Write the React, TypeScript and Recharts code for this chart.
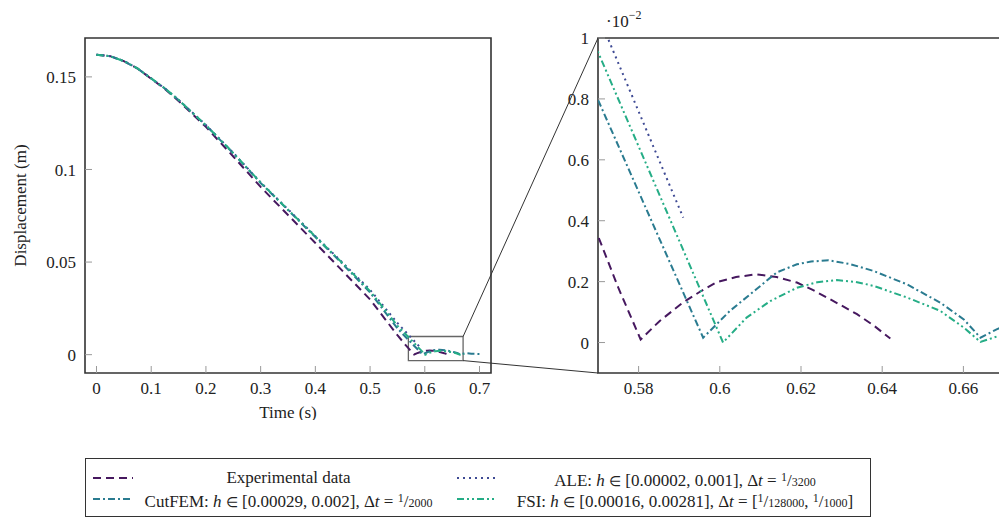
import React from "react";
import { LineChart, Line, XAxis, YAxis, ReferenceArea } from "recharts";

const FONT = '"Liberation Serif", "Times New Roman", serif';

// time (s) / displacement (m)
const expT = [0, 0.025, 0.05, 0.075, 0.1, 0.125, 0.15, 0.2, 0.25, 0.3, 0.35, 0.4, 0.45, 0.5, 0.55, 0.565, 0.57, 0.575, 0.5805, 0.5852, 0.591, 0.5955, 0.5992, 0.604, 0.609, 0.614, 0.619, 0.623, 0.6272, 0.6338, 0.638, 0.642];
const expY = [0.162, 0.1612, 0.1585, 0.1545, 0.149, 0.1435, 0.137, 0.123, 0.107, 0.0906, 0.0754, 0.0603, 0.0451, 0.0298, 0.0105, 0.0052, 0.0035, 0.0018, 0.0001, 0.00071, 0.00132, 0.0017, 0.00198, 0.00215, 0.00224, 0.00215, 0.00197, 0.00172, 0.00142, 0.00093, 0.00055, 0.00013];

const aleT = [0, 0.025, 0.05, 0.075, 0.1, 0.125, 0.15, 0.2, 0.25, 0.3, 0.35, 0.4, 0.45, 0.5, 0.55, 0.5724, 0.591];
const aleY = [0.162, 0.1612, 0.1586, 0.1546, 0.1492, 0.1438, 0.1376, 0.124, 0.109, 0.093, 0.0785, 0.064, 0.0496, 0.035, 0.0171, 0.01, 0.0041];

const cutT = [0, 0.025, 0.05, 0.075, 0.1, 0.125, 0.15, 0.2, 0.25, 0.3, 0.35, 0.4, 0.45, 0.5, 0.55, 0.57, 0.5959, 0.6025, 0.609, 0.614, 0.619, 0.6225, 0.6268, 0.632, 0.6379, 0.6461, 0.6543, 0.6601, 0.6642, 0.6683, 0.675, 0.685, 0.7];
const cutY = [0.162, 0.1612, 0.1585, 0.1545, 0.1491, 0.1437, 0.1375, 0.1238, 0.1087, 0.0927, 0.0781, 0.0635, 0.0489, 0.0336, 0.0142, 0.00797, 0.00016, 0.00104, 0.00175, 0.0023, 0.00257, 0.00266, 0.0027, 0.00258, 0.00235, 0.00191, 0.00131, 0.00076, 0.00016, 0.00044, 0.0008, 0.0005, 0.0004];

const fsiT = [0, 0.025, 0.05, 0.075, 0.1, 0.125, 0.15, 0.2, 0.25, 0.3, 0.35, 0.4, 0.45, 0.5, 0.55, 0.57, 0.6008, 0.6066, 0.6124, 0.619, 0.624, 0.6288, 0.6335, 0.6379, 0.6461, 0.6543, 0.6601, 0.6642, 0.6683, 0.672];
const fsiY = [0.162, 0.1612, 0.1585, 0.1546, 0.1492, 0.1438, 0.1376, 0.1239, 0.1089, 0.0929, 0.0783, 0.0638, 0.0493, 0.0343, 0.0157, 0.00954, 0, 0.00082, 0.00136, 0.0018, 0.00198, 0.00205, 0.00199, 0.00186, 0.00148, 0.00104, 0.00049, 0.00002, 0.0002, 0.0004];

const mainXTicks = [0, 0.1, 0.2, 0.3, 0.4, 0.5, 0.6, 0.7];
const mainYTicks = [0, 0.05, 0.1, 0.15];
const zoomXTicks = [0.58, 0.6, 0.62, 0.64, 0.66];
const zoomYTicks = [0, 0.002, 0.004, 0.006, 0.008, 0.01];

const zip = (ts: number[], ys: number[]) => ts.map((t, i) => ({ t, y: ys[i] }));

const series = [
  { key: "exp", data: zip(expT, expY), color: "#46185f", dash: "8 5" },
  { key: "ale", data: zip(aleT, aleY), color: "#3e4a94", dash: "2 4" },
  { key: "cut", data: zip(cutT, cutY), color: "#2a7b90", dash: "7 3 2 3" },
  { key: "fsi", data: zip(fsiT, fsiY), color: "#25ad86", dash: "7 3 2 3 2 3" },
];

// plot-area geometry (page pixels)
const MAIN = { x: 85, y: 38, w: 406, h: 335, xd: [-0.021, 0.721], yd: [-0.0099, 0.171] };
const ZOOM = { x: 598, y: 38, w: 406, h: 335, xd: [0.57, 0.67], yd: [-0.001, 0.01] };
const SPY = { x1: 0.57, x2: 0.67, y1: -0.0032, y2: 0.0098 };
const CHART_H = 420;

const px = (p: typeof MAIN, t: number) => p.x + ((t - p.xd[0]) / (p.xd[1] - p.xd[0])) * p.w;
const py = (p: typeof MAIN, v: number) => p.y + ((p.yd[1] - v) / (p.yd[1] - p.yd[0])) * p.h;

const tickStyle = { fill: "#222", fontSize: 17, fontFamily: FONT };
const tickLine = { stroke: "#999", strokeWidth: 1 };

const YTitle = (props: any) => {
  const vb = props.viewBox;
  const cx = vb.x + 20;
  const cy = vb.y + vb.height / 2;
  return (
    <text x={cx} y={cy} transform={`rotate(-90 ${cx} ${cy})`} textAnchor="middle" dominantBaseline="central" fontSize={17} fontFamily={FONT} fill="#222">
      Displacement (m)
    </text>
  );
};

const XTitle = (props: any) => {
  const vb = props.viewBox;
  return (
    <text x={vb.x + vb.width / 2} y={vb.y + 39} textAnchor="middle" dominantBaseline="central" fontSize={17} fontFamily={FONT} fill="#222">
      Time (s)
    </text>
  );
};

const fmtZoomY = (v: number) => String(Math.round(v * 1000) / 10);

const Sym = ({ color, dash }: { color: string; dash: string }) => (
  <svg width={40} height={6} style={{ display: "block" }}>
    <line x1={0} y1={3} x2={40} y2={3} stroke={color} strokeWidth={2.2} strokeDasharray={dash} />
  </svg>
);

const Frac = ({ n, d }: { n: string; d: string }) => (
  <span>
    <span style={{ fontSize: 12, verticalAlign: "0.4em" }}>{n}</span>/
    <span style={{ fontSize: 12 }}>{d}</span>
  </span>
);

const In = () => <span style={{ fontSize: 14 }}>∈</span>;

const cell = (left: number, top: number, width: number): React.CSSProperties => ({
  position: "absolute",
  left,
  top,
  width,
  textAlign: "center",
  lineHeight: "21px",
  fontSize: 17,
  whiteSpace: "nowrap",
});

export default function App() {
  return (
    <div style={{ position: "fixed", left: 0, top: 0, width: 999, height: 518, overflow: "hidden", background: "#fff", fontFamily: FONT, color: "#222" }}>
      {/* main chart */}
      <div style={{ position: "absolute", left: 0, top: 0 }}>
        <LineChart width={MAIN.x + MAIN.w + 9} height={CHART_H} margin={{ top: MAIN.y, right: 9, bottom: 0, left: 0 }}>
          <XAxis
            dataKey="t"
            type="number"
            domain={MAIN.xd}
            ticks={mainXTicks}
            interval={0}
            height={CHART_H - MAIN.y - MAIN.h}
            axisLine={false}
            tickSize={-7}
            tickMargin={16}
            tickLine={tickLine}
            tick={tickStyle}
            label={{ content: <XTitle /> }}
          />
          <YAxis
            type="number"
            domain={MAIN.yd}
            ticks={mainYTicks}
            interval={0}
            width={MAIN.x}
            axisLine={false}
            tickSize={-7}
            tickMargin={16}
            tickLine={tickLine}
            tick={tickStyle}
            label={{ content: <YTitle /> }}
          />
          <ReferenceArea x1={MAIN.xd[0]} x2={MAIN.xd[1]} y1={MAIN.yd[0]} y2={MAIN.yd[1]} fill="none" stroke="#333" strokeWidth={1.6} ifOverflow="visible" />
          {series.map((s) => (
            <Line key={s.key} data={s.data} dataKey="y" type="linear" stroke={s.color} strokeWidth={2} strokeDasharray={s.dash} dot={false} activeDot={false} isAnimationActive={false} />
          ))}
          <ReferenceArea x1={SPY.x1} x2={SPY.x2} y1={SPY.y1} y2={SPY.y2} fill="none" stroke="#666" strokeWidth={1.3} ifOverflow="visible" />
        </LineChart>
      </div>

      {/* zoomed chart */}
      <div style={{ position: "absolute", left: 500, top: 0 }}>
        <LineChart width={ZOOM.x - 500 + ZOOM.w + 10} height={CHART_H} margin={{ top: ZOOM.y, right: 10, bottom: 0, left: ZOOM.x - 500 - 60 }}>
          <XAxis
            dataKey="t"
            type="number"
            domain={ZOOM.xd}
            allowDataOverflow
            ticks={zoomXTicks}
            interval={0}
            height={CHART_H - ZOOM.y - ZOOM.h}
            axisLine={false}
            tickSize={-7}
            tickMargin={16}
            tickLine={tickLine}
            tick={tickStyle}
          />
          <YAxis
            type="number"
            domain={ZOOM.yd}
            allowDataOverflow
            ticks={zoomYTicks}
            interval={0}
            width={60}
            axisLine={false}
            tickSize={-7}
            tickMargin={16}
            tickLine={tickLine}
            tick={tickStyle}
            tickFormatter={fmtZoomY}
          />
          <ReferenceArea x1={ZOOM.xd[0]} x2={ZOOM.xd[1]} y1={ZOOM.yd[0]} y2={ZOOM.yd[1]} fill="none" stroke="#333" strokeWidth={1.6} ifOverflow="visible" />
          {series.map((s) => (
            <Line key={s.key} data={s.data} dataKey="y" type="linear" stroke={s.color} strokeWidth={2} strokeDasharray={s.dash} dot={false} activeDot={false} isAnimationActive={false} />
          ))}
        </LineChart>
      </div>

      {/* connectors and exponent */}
      <svg width={999} height={518} style={{ position: "absolute", left: 0, top: 0, pointerEvents: "none" }}>
        <line x1={px(MAIN, SPY.x2)} y1={py(MAIN, SPY.y2)} x2={px(ZOOM, ZOOM.xd[0])} y2={py(ZOOM, ZOOM.yd[1])} stroke="#333" strokeWidth={1} />
        <line x1={px(MAIN, SPY.x2)} y1={py(MAIN, SPY.y1)} x2={px(ZOOM, ZOOM.xd[0])} y2={py(ZOOM, ZOOM.yd[0])} stroke="#333" strokeWidth={1} />
        <text x={606} y={27} fontSize={17} fontFamily={FONT} fill="#222">
          ·10<tspan dy={-8} fontSize={12}>−2</tspan>
        </text>
      </svg>

      {/* legend */}
      <div style={{ position: "absolute", left: 85, top: 458, width: 786, height: 59, border: "1px solid #333", boxSizing: "border-box" }}>
        <div style={{ position: "absolute", left: 7, top: 16 }}>
          <Sym color={series[0].color} dash={series[0].dash} />
        </div>
        <div style={cell(50, 8, 305)}>Experimental data</div>
        <div style={{ position: "absolute", left: 371, top: 16 }}>
          <Sym color={series[1].color} dash={series[1].dash} />
        </div>
        <div style={cell(415, 8, 368)}>
          ALE: <i>h</i> <In /> [0.00002, 0.001], Δ<i>t</i> = <Frac n="1" d="3200" />
        </div>
        <div style={{ position: "absolute", left: 7, top: 37 }}>
          <Sym color={series[2].color} dash={series[2].dash} />
        </div>
        <div style={cell(50, 29, 305)}>
          CutFEM: <i>h</i> <In /> [0.00029, 0.002], Δ<i>t</i> = <Frac n="1" d="2000" />
        </div>
        <div style={{ position: "absolute", left: 371, top: 37 }}>
          <Sym color={series[3].color} dash={series[3].dash} />
        </div>
        <div style={cell(415, 29, 368)}>
          FSI: <i>h</i> <In /> [0.00016, 0.00281], Δ<i>t</i> = [<Frac n="1" d="128000" />, <Frac n="1" d="1000" />]
        </div>
      </div>
    </div>
  );
}
